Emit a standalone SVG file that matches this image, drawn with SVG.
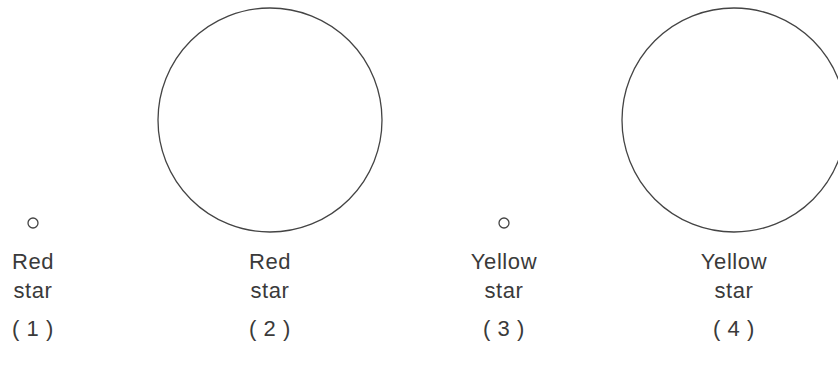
<svg xmlns="http://www.w3.org/2000/svg" width="838" height="375" viewBox="0 0 838 375">
<style>
.c{fill:none;stroke:#444;stroke-width:1.3}
.t{font-family:"Liberation Sans",Arial,sans-serif;font-size:22px;letter-spacing:0.6px;fill:#3a3a3a;text-anchor:middle}
</style>
<rect width="838" height="375" fill="#fff"/>
<g id="star1">
<circle class="c" cx="33" cy="223" r="5"/>
<text class="t" x="33" y="269">Red</text>
<text class="t" x="33" y="298">star</text>
<text class="t" x="33" y="336">( 1 )</text>
</g>
<g id="star2">
<circle class="c" cx="270" cy="120" r="112"/>
<text class="t" x="270" y="269">Red</text>
<text class="t" x="270" y="298">star</text>
<text class="t" x="270" y="336">( 2 )</text>
</g>
<g id="star3">
<circle class="c" cx="504" cy="223" r="5"/>
<text class="t" x="504" y="269">Yellow</text>
<text class="t" x="504" y="298">star</text>
<text class="t" x="504" y="336">( 3 )</text>
</g>
<g id="star4">
<circle class="c" cx="734" cy="120" r="112"/>
<text class="t" x="734" y="269">Yellow</text>
<text class="t" x="734" y="298">star</text>
<text class="t" x="734" y="336">( 4 )</text>
</g>
<g id="connectors"/>
</svg>
